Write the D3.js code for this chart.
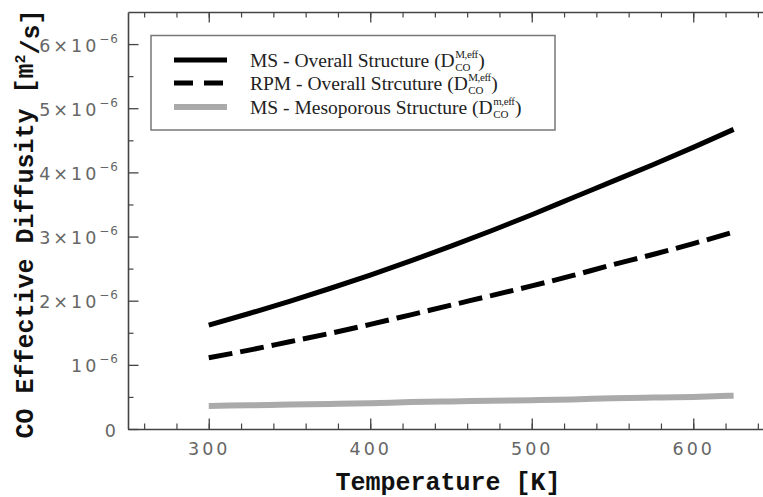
<!DOCTYPE html>
<html>
<head>
<meta charset="utf-8">
<script src="https://cdn.jsdelivr.net/npm/d3@7"></script>
<style>
  body { margin: 0; background: #fff; }
  svg { display: block; }
  .tick text { font-family: "DejaVu Sans", sans-serif; fill: #666; letter-spacing: 3px; }
</style>
</head>
<body>
<svg width="763" height="497"></svg>
<script>
// temperatures [K]
var temps = [300, 325, 350, 375, 400, 425, 450, 475, 500, 525, 550, 575, 600, 625];

// effective diffusivity in units of 1e-6 m2/s
var msOverall  = [1.62, 1.80, 1.99, 2.19, 2.40, 2.62, 2.85, 3.09, 3.34, 3.60, 3.86, 4.12, 4.39, 4.67];
var rpmOverall = [1.11, 1.23, 1.36, 1.49, 1.63, 1.78, 1.93, 2.08, 2.23, 2.39, 2.56, 2.72, 2.89, 3.07];
var msMeso     = [0.36, 0.37, 0.38, 0.39, 0.40, 0.42, 0.43, 0.44, 0.45, 0.46, 0.48, 0.49, 0.50, 0.52];

var xTicks = [300, 400, 500, 600];
var yTicks = [0, 1, 2, 3, 4, 5, 6];

var legendNames = ["MS - Overall Structure (D", "RPM - Overall Strcuture (D", "MS - Mesoporous Structure (D"];
var legendSup = ["M,eff", "M,eff", "m,eff"];

var series = [
  { values: msOverall,  color: "#000", width: 5, dash: null },
  { values: rpmOverall, color: "#000", width: 5, dash: "24,8" },
  { values: msMeso,     color: "#aaa", width: 6, dash: null }
];

var svg = d3.select("svg");
var pLeft = 128, pRight = 774, pTop = 12, pBottom = 429;

var x = d3.scaleLinear().domain([250, 650]).range([pLeft, pRight]);
var y = d3.scaleLinear().domain([0, 6.5]).range([pBottom, pTop]);

// minor ticks first
function minor(axis, tr) {
  var g = svg.append("g").attr("transform", tr).call(axis);
  g.select(".domain").remove();
  g.selectAll("text").remove();
  g.selectAll("line").attr("stroke", "#444").attr("stroke-width", 1.2);
}
var xMinor = d3.range(260, 650, 20);
var yMinor = d3.range(0.5, 6.5, 1);
minor(d3.axisBottom(x).tickValues(xMinor).tickSize(-5.5), "translate(0," + pBottom + ")");
minor(d3.axisTop(x).tickValues(xMinor).tickSize(-5.5), "translate(0," + pTop + ")");
minor(d3.axisLeft(y).tickValues(yMinor).tickSize(-5.5), "translate(" + pLeft + ",0)");
minor(d3.axisRight(y).tickValues(yMinor).tickSize(-5.5), "translate(" + pRight + ",0)");

function styleAxis(g) {
  g.select(".domain").attr("stroke", "#444").attr("stroke-width", 1.6);
  g.selectAll(".tick line").attr("stroke", "#444").attr("stroke-width", 1.3);
}

// bottom axis with labels
var xAxis = svg.append("g")
  .attr("transform", "translate(0," + pBottom + ")")
  .call(d3.axisBottom(x).tickValues(xTicks).tickSize(-10.5).tickSizeOuter(0).tickPadding(14));
styleAxis(xAxis);
xAxis.selectAll(".tick text").attr("font-size", 17.5);

var topAxis = svg.append("g")
  .attr("transform", "translate(0," + pTop + ")")
  .call(d3.axisTop(x).tickValues(xTicks).tickSize(-10.5).tickSizeOuter(0).tickFormat(""));
styleAxis(topAxis);

// left axis with labels like 2x10^-6
var yAxis = svg.append("g")
  .attr("transform", "translate(" + pLeft + ",0)")
  .call(d3.axisLeft(y).tickValues(yTicks).tickSize(-10.5).tickSizeOuter(0).tickPadding(9));
styleAxis(yAxis);
yAxis.selectAll(".tick text").each(function(d) {
  var t = d3.select(this).text("").attr("font-size", 17.5).attr("dy", "0.4em");
  if (d === 0) { t.text("0"); return; }
  t.append("tspan").text(d === 1 ? "10" : d + "\u00d710");
  t.append("tspan").attr("font-size", 12).attr("dy", "-0.75em").attr("letter-spacing", "1px").text("\u22126");
});

var rightAxis = svg.append("g")
  .attr("transform", "translate(" + pRight + ",0)")
  .call(d3.axisRight(y).tickValues(yTicks).tickSize(-10.5).tickSizeOuter(0).tickFormat(""));
styleAxis(rightAxis);

// lines
var line = d3.line()
  .x(function(d, i) { return x(temps[i]); })
  .y(function(d) { return y(d); })
  .curve(d3.curveMonotoneX);

series.forEach(function(s) {
  svg.append("path")
    .datum(s.values)
    .attr("fill", "none")
    .attr("stroke", s.color)
    .attr("stroke-width", s.width)
    .attr("stroke-dasharray", s.dash)
    .attr("d", line);
});

// legend
var lg = svg.append("g");
lg.append("rect")
  .attr("x", 151).attr("y", 35.5).attr("width", 404).attr("height", 94.5)
  .attr("fill", "#fff").attr("stroke", "#777").attr("stroke-width", 1.5);

var serif = "'Liberation Serif', 'Times New Roman', serif";
var rowY = [60, 83, 107];
series.forEach(function(s, i) {
  lg.append("line")
    .attr("x1", 174).attr("x2", 227).attr("y1", rowY[i]).attr("y2", rowY[i])
    .attr("stroke", s.color).attr("stroke-width", s.width)
    .attr("stroke-dasharray", s.dash ? "19,11" : null);
  var t = lg.append("text")
    .attr("x", 250).attr("y", rowY[i] + 7)
    .attr("font-family", serif).attr("font-size", 19.5).attr("fill", "#222")
    .text(legendNames[i]);
  var bb = t.node().getComputedTextLength();
  var sup = lg.append("text")
    .attr("x", 250 + bb + 0.5).attr("y", rowY[i] - 2)
    .attr("font-family", serif).attr("font-size", 11).attr("fill", "#222")
    .attr("letter-spacing", "-0.4px").text(legendSup[i]);
  var sub = lg.append("text")
    .attr("x", 250 + bb + 0.5).attr("y", rowY[i] + 10.5)
    .attr("font-family", serif).attr("font-size", 11).attr("fill", "#222")
    .text("CO");
  var w = Math.max(sup.node().getComputedTextLength(), sub.node().getComputedTextLength());
  lg.append("text")
    .attr("x", 250 + bb + 1 + w).attr("y", rowY[i] + 7)
    .attr("font-family", serif).attr("font-size", 19.5).attr("fill", "#222")
    .text(")");
});

// axis titles
svg.append("text")
  .attr("x", (pLeft + pRight) / 2 - 3).attr("y", 490)
  .attr("text-anchor", "middle")
  .attr("font-family", "'Liberation Mono', 'Courier New', monospace")
  .attr("font-weight", "bold").attr("font-size", 25).attr("fill", "#111")
  .text("Temperature [K]");

var yt = svg.append("text")
  .attr("transform", "translate(33,224) rotate(-90)")
  .attr("text-anchor", "middle")
  .attr("font-family", "'Liberation Mono', 'Courier New', monospace")
  .attr("font-weight", "bold").attr("font-size", 25).attr("fill", "#111");
yt.append("tspan").text("CO Effective Diffusity [m");
yt.append("tspan").attr("font-size", 15).attr("dy", "-0.55em").text("2");
yt.append("tspan").attr("dy", "0.55em").text("/s]");
</script>
</body>
</html>
